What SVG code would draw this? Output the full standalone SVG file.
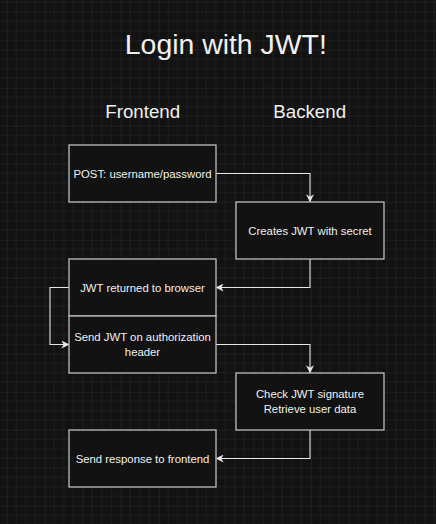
<svg xmlns="http://www.w3.org/2000/svg" width="436" height="524" viewBox="0 0 436 524">
<defs>
<pattern id="grid" patternUnits="userSpaceOnUse" x="6.7" y="11.7" width="38" height="38">
<path d="M9.5 0V38M19 0V38M28.5 0V38M0 9.5H38M0 19H38M0 28.5H38" stroke="#1e1e1e" stroke-width="1" fill="none"/>
<path d="M0 0V38M0 0H38" stroke="#2b2b2b" stroke-width="1" fill="none"/>
</pattern>
<marker id="arr" viewBox="0 0 10 10" refX="9" refY="5" markerWidth="8" markerHeight="8" markerUnits="userSpaceOnUse" orient="auto">
<path d="M0 0L10 5L0 10L3 5Z" fill="#e6e6e6"/>
</marker>
<style>
.box{fill:#121212;stroke:#bdbdbd;stroke-width:1.3}
.t{font-family:"Liberation Sans",Arial,sans-serif;fill:#f0f0f0;text-anchor:middle}
.bt{font-size:11.35px}
.edge{fill:none;stroke:#e6e6e6;stroke-width:1.1;marker-end:url(#arr)}
</style>
</defs>
<rect width="436" height="524" fill="#121212"/>
<rect width="436" height="524" fill="url(#grid)"/>
<text class="t" x="225.8" y="54.3" font-size="28.4">Login with JWT!</text>
<text class="t" x="142.7" y="117.7" font-size="18.7">Frontend</text>
<text class="t" x="309.7" y="117.7" font-size="18.7">Backend</text>
<g id="connectors">
<path class="edge" d="M216 173.5H310V201.5"/>
<path class="edge" d="M310 259V287.5H216.5"/>
<path class="edge" d="M69 287.5H50V344.5H68.5"/>
<path class="edge" d="M216 344.5H310V372.5"/>
<path class="edge" d="M310 430V458.5H216.5"/>
</g>
<g id="n1"><rect class="box" x="69" y="145" width="147" height="57"/><text class="t bt" x="142.5" y="177.5">POST: username/password</text></g>
<g id="n2"><rect class="box" x="236" y="202" width="148" height="57"/><text class="t bt" x="310" y="234.5">Creates JWT with secret</text></g>
<g id="n3"><rect class="box" x="69" y="259" width="147" height="57"/><text class="t bt" x="142.5" y="291.5">JWT returned to browser</text></g>
<g id="n4"><rect class="box" x="69" y="316" width="147" height="57"/><text class="t bt" x="142.5" y="341">Send JWT on authorization</text><text class="t bt" x="142.5" y="355.6">header</text></g>
<g id="n5"><rect class="box" x="236" y="373" width="148" height="57"/><text class="t bt" x="310" y="398">Check JWT signature</text><text class="t bt" x="310" y="412.6">Retrieve user data</text></g>
<g id="n6"><rect class="box" x="69" y="430" width="147" height="57"/><text class="t bt" x="142.5" y="462.5">Send response to frontend</text></g>
</svg>
